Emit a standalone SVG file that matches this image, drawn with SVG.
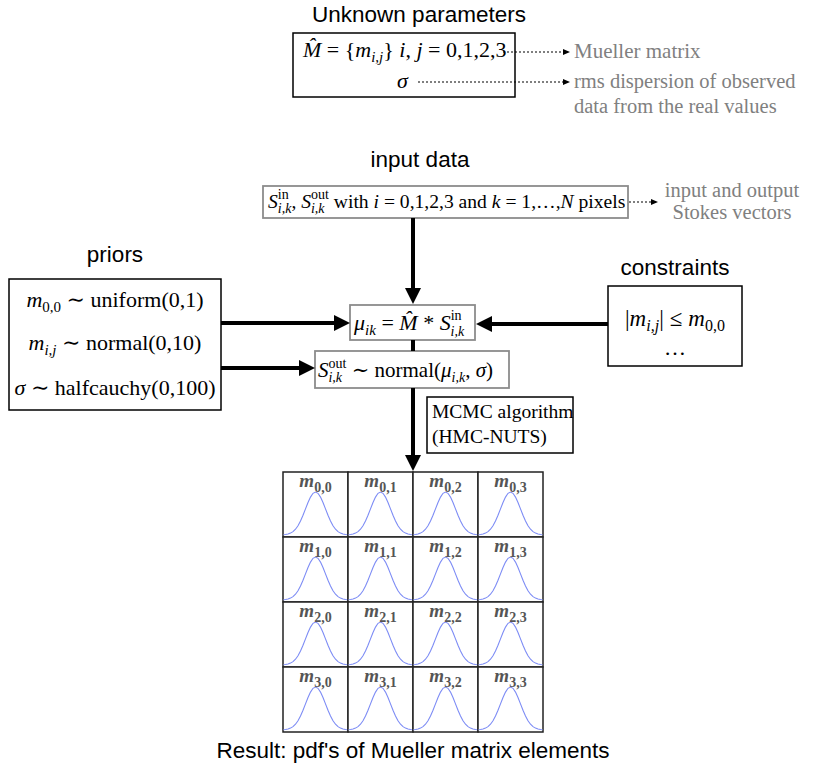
<svg xmlns="http://www.w3.org/2000/svg" xmlns:xlink="http://www.w3.org/1999/xlink" width="816" height="778" viewBox="0 0 816 778">
<defs>
<style>
.title{font-family:"Liberation Sans",Arial,sans-serif;font-size:22.5px;fill:#000;}
.math{font-family:"Liberation Serif","DejaVu Serif",serif;font-size:21px;fill:#000;}
.gray{font-family:"Liberation Serif","DejaVu Serif",serif;font-size:20.5px;fill:#808080;}
.i{font-style:italic;}
.sm{font-size:14px;}
.box{fill:#fff;stroke:#000;stroke-width:1.5;}
.gbox{fill:#fff;stroke:#8c8c8c;stroke-width:1.8;}
.thick{stroke:#000;stroke-width:4;fill:none;}
.dot{stroke:#000;stroke-width:1.2;stroke-dasharray:2 2;fill:none;}
.cell{fill:#fff;stroke:#222;stroke-width:1.5;}
.curve{fill:none;stroke:#7d8cf5;stroke-width:1.1;}
.lab{font-family:"Liberation Serif","DejaVu Serif",serif;font-weight:bold;fill:#555;text-anchor:middle;font-size:19px;}
</style>
<marker id="big" markerUnits="userSpaceOnUse" markerWidth="16" markerHeight="16" refX="2" refY="8" orient="auto">
<path d="M0,0 L16,8 L0,16 z" fill="#000"/>
</marker>
<marker id="small" markerUnits="userSpaceOnUse" markerWidth="7" markerHeight="6" refX="1" refY="3" orient="auto">
<path d="M0,0 L7,3 L0,6 z" fill="#000"/>
</marker>
<polyline id="gauss" class="curve" points="0.5,62.8 2.5,62.5 5,62 7.5,61.1 10,59.6 12.5,57.2 15,53.7 17.5,49 20,43.3 22.5,36.9 25,30.5 27.5,25.1 30,21.3 32.5,20 35,21.3 37.5,25.1 40,30.5 42.5,36.9 45,43.3 47.5,49 50,53.7 52.5,57.2 55,59.6 57.5,61.1 60,62 62.5,62.5 64.5,62.8"/>
</defs>
<rect width="816" height="778" fill="#fff"/>

<g id="unknown-parameters">
<text class="title" x="419" y="22" text-anchor="middle">Unknown parameters</text>
<rect class="box" x="293" y="33" width="222" height="64"/>
<text class="math" x="303" y="57" style="font-size:22px"><tspan class="i">M̂</tspan> = {<tspan class="i">m</tspan><tspan class="i sm" dy="5" style="font-size:15px">i,j</tspan><tspan dy="-5">} </tspan><tspan class="i">i</tspan>, <tspan class="i">j</tspan> = 0,1,2,3</text>
<text class="math i" x="397" y="88" style="font-size:22px">σ</text>
</g>
<g id="mueller-note">
<text class="gray" x="574" y="58" style="font-size:21px">Mueller matrix</text>
</g>
<g id="rms-note">
<text class="gray" x="574" y="88">rms dispersion of observed</text>
<text class="gray" x="574" y="113">data from the real values</text>
</g>

<g id="input-data">
<text class="title" x="420" y="167" text-anchor="middle">input data</text>
<rect class="gbox" x="263" y="186" width="365" height="32"/>
<text class="math" x="268" y="208" style="font-size:19.6px"><tspan class="i">S</tspan><tspan class="sm" dy="-9">in</tspan><tspan class="i sm" dx="-10.9" dy="14">i,k</tspan><tspan dy="-5">, </tspan><tspan class="i">S</tspan><tspan class="sm" dy="-9">out</tspan><tspan class="i sm" dx="-17.9" dy="14">i,k</tspan><tspan dx="4.3" dy="-5"> with </tspan><tspan class="i">i</tspan> = 0,1,2,3 and <tspan class="i">k</tspan> = 1,…,<tspan class="i">N</tspan> pixels</text>
</g>
<g id="stokes-note">
<text class="gray" x="732" y="197" text-anchor="middle">input and output</text>
<text class="gray" x="732" y="219" text-anchor="middle">Stokes vectors</text>
</g>

<g id="priors">
<text class="title" x="115" y="262" text-anchor="middle">priors</text>
<rect class="box" x="9" y="279" width="212" height="131"/>
<text class="math" x="115" y="307" text-anchor="middle" style="font-size:22px"><tspan class="i">m</tspan><tspan dy="5" style="font-size:15px">0,0</tspan><tspan dy="-5"> ∼ uniform(0,1)</tspan></text>
<text class="math" x="115" y="350" text-anchor="middle" style="font-size:22px"><tspan class="i">m</tspan><tspan class="i" dy="5" style="font-size:15px">i,j</tspan><tspan dy="-5"> ∼ normal(0,10)</tspan></text>
<text class="math" x="115" y="395" text-anchor="middle" style="font-size:22px"><tspan class="i">σ</tspan> ∼ halfcauchy(0,100)</text>
</g>

<g id="likelihood-mu">
<rect class="gbox" x="350" y="305" width="125" height="35"/>
<text class="math" x="354" y="330" style="font-size:22px"><tspan class="i">μ</tspan><tspan class="i sm" dy="5" style="font-size:15px">ik</tspan><tspan dy="-5"> = </tspan><tspan class="i">M̂</tspan> * <tspan class="i">S</tspan><tspan class="sm" dy="-10" style="font-size:14px">in</tspan><tspan class="i sm" dx="-10.9" dy="16" style="font-size:14px">i,k</tspan></text>
</g>

<g id="likelihood-s">
<rect class="gbox" x="315" y="351" width="194" height="37"/>
<text class="math" x="318" y="377"><tspan class="i">S</tspan><tspan class="sm" dy="-9">out</tspan><tspan class="i sm" dx="-17.9" dy="14">i,k</tspan><tspan dx="4.3" dy="-5"> ∼ normal(</tspan><tspan class="i">μ</tspan><tspan class="i sm" dy="5">i,k</tspan><tspan dy="-5">, </tspan><tspan class="i">σ</tspan>)</text>
</g>

<g id="constraints">
<text class="title" x="675" y="275" text-anchor="middle">constraints</text>
<rect class="box" x="608" y="286" width="134" height="80"/>
<text class="math" x="675" y="326" text-anchor="middle" style="font-size:23px">|<tspan class="i">m</tspan><tspan class="i" dy="5" style="font-size:16px">i,j</tspan><tspan dy="-5">|</tspan><tspan dx="6">≤</tspan><tspan class="i" dx="6">m</tspan><tspan dy="5" style="font-size:16px">0,0</tspan></text>
<text class="math" x="675" y="355" text-anchor="middle" style="font-size:22px">…</text>
</g>

<g id="mcmc">
<rect class="box" x="427" y="397" width="146" height="56"/>
<text class="math" x="432" y="418" style="font-size:19.5px">MCMC algorithm</text>
<text class="math" x="432" y="443" style="font-size:19.5px">(HMC-NUTS)</text>
</g>

<g id="result-grid">
<g id="cell-0-0" transform="translate(283,472)"><rect class="cell" width="65" height="65"/><use xlink:href="#gauss"/><text class="lab" x="32.5" y="15"><tspan font-style="italic">m</tspan><tspan font-size="14" dy="5">0,0</tspan></text></g>
<g id="cell-0-1" transform="translate(348,472)"><rect class="cell" width="65" height="65"/><use xlink:href="#gauss"/><text class="lab" x="32.5" y="15"><tspan font-style="italic">m</tspan><tspan font-size="14" dy="5">0,1</tspan></text></g>
<g id="cell-0-2" transform="translate(413,472)"><rect class="cell" width="65" height="65"/><use xlink:href="#gauss"/><text class="lab" x="32.5" y="15"><tspan font-style="italic">m</tspan><tspan font-size="14" dy="5">0,2</tspan></text></g>
<g id="cell-0-3" transform="translate(478,472)"><rect class="cell" width="65" height="65"/><use xlink:href="#gauss"/><text class="lab" x="32.5" y="15"><tspan font-style="italic">m</tspan><tspan font-size="14" dy="5">0,3</tspan></text></g>
<g id="cell-1-0" transform="translate(283,537)"><rect class="cell" width="65" height="65"/><use xlink:href="#gauss"/><text class="lab" x="32.5" y="15"><tspan font-style="italic">m</tspan><tspan font-size="14" dy="5">1,0</tspan></text></g>
<g id="cell-1-1" transform="translate(348,537)"><rect class="cell" width="65" height="65"/><use xlink:href="#gauss"/><text class="lab" x="32.5" y="15"><tspan font-style="italic">m</tspan><tspan font-size="14" dy="5">1,1</tspan></text></g>
<g id="cell-1-2" transform="translate(413,537)"><rect class="cell" width="65" height="65"/><use xlink:href="#gauss"/><text class="lab" x="32.5" y="15"><tspan font-style="italic">m</tspan><tspan font-size="14" dy="5">1,2</tspan></text></g>
<g id="cell-1-3" transform="translate(478,537)"><rect class="cell" width="65" height="65"/><use xlink:href="#gauss"/><text class="lab" x="32.5" y="15"><tspan font-style="italic">m</tspan><tspan font-size="14" dy="5">1,3</tspan></text></g>
<g id="cell-2-0" transform="translate(283,602)"><rect class="cell" width="65" height="65"/><use xlink:href="#gauss"/><text class="lab" x="32.5" y="15"><tspan font-style="italic">m</tspan><tspan font-size="14" dy="5">2,0</tspan></text></g>
<g id="cell-2-1" transform="translate(348,602)"><rect class="cell" width="65" height="65"/><use xlink:href="#gauss"/><text class="lab" x="32.5" y="15"><tspan font-style="italic">m</tspan><tspan font-size="14" dy="5">2,1</tspan></text></g>
<g id="cell-2-2" transform="translate(413,602)"><rect class="cell" width="65" height="65"/><use xlink:href="#gauss"/><text class="lab" x="32.5" y="15"><tspan font-style="italic">m</tspan><tspan font-size="14" dy="5">2,2</tspan></text></g>
<g id="cell-2-3" transform="translate(478,602)"><rect class="cell" width="65" height="65"/><use xlink:href="#gauss"/><text class="lab" x="32.5" y="15"><tspan font-style="italic">m</tspan><tspan font-size="14" dy="5">2,3</tspan></text></g>
<g id="cell-3-0" transform="translate(283,667)"><rect class="cell" width="65" height="65"/><use xlink:href="#gauss"/><text class="lab" x="32.5" y="15"><tspan font-style="italic">m</tspan><tspan font-size="14" dy="5">3,0</tspan></text></g>
<g id="cell-3-1" transform="translate(348,667)"><rect class="cell" width="65" height="65"/><use xlink:href="#gauss"/><text class="lab" x="32.5" y="15"><tspan font-style="italic">m</tspan><tspan font-size="14" dy="5">3,1</tspan></text></g>
<g id="cell-3-2" transform="translate(413,667)"><rect class="cell" width="65" height="65"/><use xlink:href="#gauss"/><text class="lab" x="32.5" y="15"><tspan font-style="italic">m</tspan><tspan font-size="14" dy="5">3,2</tspan></text></g>
<g id="cell-3-3" transform="translate(478,667)"><rect class="cell" width="65" height="65"/><use xlink:href="#gauss"/><text class="lab" x="32.5" y="15"><tspan font-style="italic">m</tspan><tspan font-size="14" dy="5">3,3</tspan></text></g>
</g>
<g id="result-caption">
<text class="title" x="413" y="758" text-anchor="middle">Result: pdf's of Mueller matrix elements</text>
</g>

<g id="connectors">
<line class="thick" x1="413" y1="218" x2="413" y2="290" marker-end="url(#big)"/>
<line class="thick" x1="221" y1="323" x2="336" y2="323" marker-end="url(#big)"/>
<line class="thick" x1="221" y1="368" x2="301" y2="368" marker-end="url(#big)"/>
<line class="thick" x1="608" y1="324" x2="490" y2="324" marker-end="url(#big)"/>
<line class="thick" x1="413" y1="340" x2="413" y2="351"/>
<line class="thick" x1="413" y1="388" x2="413" y2="457" marker-end="url(#big)"/>
<line class="dot" x1="503" y1="52" x2="564" y2="52" marker-end="url(#small)"/>
<line class="dot" x1="418" y1="82" x2="564" y2="82" marker-end="url(#small)"/>
<line class="dot" x1="629" y1="202" x2="652" y2="202" marker-end="url(#small)"/>
</g>
</svg>
